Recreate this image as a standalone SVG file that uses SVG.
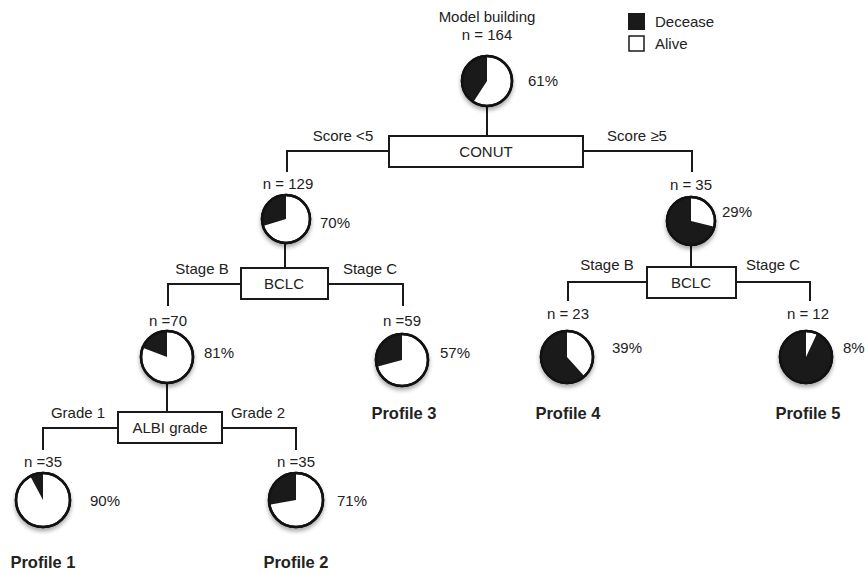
<svg xmlns="http://www.w3.org/2000/svg" width="865" height="574" viewBox="0 0 865 574">
<defs>
<style>
.t{font-family:"Liberation Sans",Arial,sans-serif;font-size:15px;fill:#222}
.m{text-anchor:middle}
.p{font-family:"Liberation Sans",Arial,sans-serif;font-size:16.5px;font-weight:bold;fill:#222;text-anchor:middle}
.ln{fill:none;stroke:#1a1a1a;stroke-width:2}
.box{fill:#fff;stroke:#1a1a1a;stroke-width:2}
.pw{fill:#fff;stroke:#111;stroke-width:2.5}
.pb{fill:#1a1a1a}
.pr{fill:none;stroke:#111;stroke-width:2.5}
</style>
<filter id="sh" x="-30%" y="-30%" width="160%" height="170%">
<feDropShadow dx="0" dy="3" stdDeviation="2" flood-color="#000" flood-opacity="0.35"/>
</filter>
</defs>
<rect width="865" height="574" fill="#fff"/>

<g id="legend">
<rect x="628" y="13" width="17" height="17" fill="#1a1a1a"/>
<text class="t" x="655" y="27">Decease</text>
<rect x="629" y="36" width="15" height="15" fill="#fff" stroke="#1a1a1a" stroke-width="1.5"/>
<text class="t" x="655" y="49">Alive</text>
</g>

<g id="connectors">
<path class="ln" d="M487,106 V136"/>
<path class="ln" d="M389,151 H287 V172"/>
<path class="ln" d="M583,151 H692 V172"/>
<path class="ln" d="M285,243 V268"/>
<path class="ln" d="M241,284 H168 V306"/>
<path class="ln" d="M328,284 H403 V306"/>
<path class="ln" d="M167,383 V412"/>
<path class="ln" d="M118,428 H43 V450"/>
<path class="ln" d="M222,428 H296 V450"/>
<path class="ln" d="M691,245 V268"/>
<path class="ln" d="M647,282 H568 V301"/>
<path class="ln" d="M736,282 H810 V301"/>
</g>

<g id="root">
<text class="t m" x="487" y="22">Model building</text>
<text class="t m" x="487" y="40">n = 164</text>
<g filter="url(#sh)"><circle class="pw" cx="487" cy="81" r="25"/></g>
<path class="pb" d="M487,81 L473.38,101.97 A25,25 0 0 1 487,56 Z"/>
<circle class="pr" cx="487" cy="81" r="25"/>
<text class="t" x="528" y="86">61%</text>
</g>

<g id="conut">
<rect class="box" x="389" y="136" width="194" height="31"/>
<text class="t m" x="486" y="157">CONUT</text>
<text class="t m" x="343" y="141">Score &lt;5</text>
<text class="t m" x="637" y="141">Score ≥5</text>
</g>

<g id="n129">
<text class="t m" x="288" y="189">n = 129</text>
<g filter="url(#sh)"><circle class="pw" cx="286" cy="219" r="24"/></g>
<path class="pb" d="M286,219 L263.05,226.02 A24,24 0 0 1 286,195 Z"/>
<circle class="pr" cx="286" cy="219" r="24"/>
<text class="t" x="320" y="228">70%</text>
</g>

<g id="n35r">
<text class="t m" x="691" y="190">n = 35</text>
<g filter="url(#sh)"><circle class="pw" cx="691" cy="221" r="24"/></g>
<path class="pb" d="M691,221 L714.29,226.81 A24,24 0 1 1 691,197 Z"/>
<circle class="pr" cx="691" cy="221" r="24"/>
<text class="t" x="722" y="217">29%</text>
</g>

<g id="bclcL">
<rect class="box" x="241" y="268" width="87" height="31"/>
<text class="t m" x="284" y="289">BCLC</text>
<text class="t m" x="202" y="274">Stage B</text>
<text class="t m" x="370" y="274">Stage C</text>
</g>

<g id="bclcR">
<rect class="box" x="647" y="267" width="89" height="31"/>
<text class="t m" x="691" y="288">BCLC</text>
<text class="t m" x="607" y="270">Stage B</text>
<text class="t m" x="773" y="270">Stage C</text>
</g>

<g id="n70">
<text class="t m" x="168" y="326">n =70</text>
<g filter="url(#sh)"><circle class="pw" cx="167" cy="357" r="26"/></g>
<path class="pb" d="M167,357 L142.73,347.68 A26,26 0 0 1 167,331 Z"/>
<circle class="pr" cx="167" cy="357" r="26"/>
<text class="t" x="204" y="358">81%</text>
</g>

<g id="n59">
<text class="t m" x="402" y="326">n =59</text>
<g filter="url(#sh)"><circle class="pw" cx="402" cy="360" r="26"/></g>
<path class="pb" d="M402,360 L376.89,366.73 A26,26 0 0 1 402,334 Z"/>
<circle class="pr" cx="402" cy="360" r="26"/>
<text class="t" x="440" y="358">57%</text>
<text class="p" x="404" y="419">Profile 3</text>
</g>

<g id="n23">
<text class="t m" x="568" y="319">n = 23</text>
<g filter="url(#sh)"><circle class="pw" cx="567" cy="357" r="26"/></g>
<path class="pb" d="M567,357 L584.40,376.32 A26,26 0 1 1 567,331 Z"/>
<circle class="pr" cx="567" cy="357" r="26"/>
<text class="t" x="612" y="353">39%</text>
<text class="p" x="568" y="419">Profile 4</text>
</g>

<g id="n12">
<text class="t m" x="808" y="319">n = 12</text>
<g filter="url(#sh)"><circle class="pw" cx="806" cy="357" r="26"/></g>
<path class="pb" d="M806,357 L816.99,333.44 A26,26 0 1 1 806,331 Z"/>
<circle class="pr" cx="806" cy="357" r="26"/>
<text class="t" x="843" y="353">8%</text>
<text class="p" x="808" y="419">Profile 5</text>
</g>

<g id="albi">
<rect class="box" x="118" y="412" width="104" height="31"/>
<text class="t m" x="170" y="433">ALBI grade</text>
<text class="t m" x="78" y="418">Grade 1</text>
<text class="t m" x="258" y="418">Grade 2</text>
</g>

<g id="n35a">
<text class="t m" x="43" y="467">n =35</text>
<g filter="url(#sh)"><circle class="pw" cx="43" cy="500" r="27"/></g>
<path class="pb" d="M43,500 L30.32,476.16 A27,27 0 0 1 43,473 Z"/>
<circle class="pr" cx="43" cy="500" r="27"/>
<text class="t" x="90" y="506">90%</text>
<text class="p" x="43" y="568">Profile 1</text>
</g>

<g id="n35b">
<text class="t m" x="296" y="467">n =35</text>
<g filter="url(#sh)"><circle class="pw" cx="296" cy="500" r="27"/></g>
<path class="pb" d="M296,500 L269.41,504.69 A27,27 0 0 1 296,473 Z"/>
<circle class="pr" cx="296" cy="500" r="27"/>
<text class="t" x="337" y="506">71%</text>
<text class="p" x="296" y="568">Profile 2</text>
</g>
</svg>
